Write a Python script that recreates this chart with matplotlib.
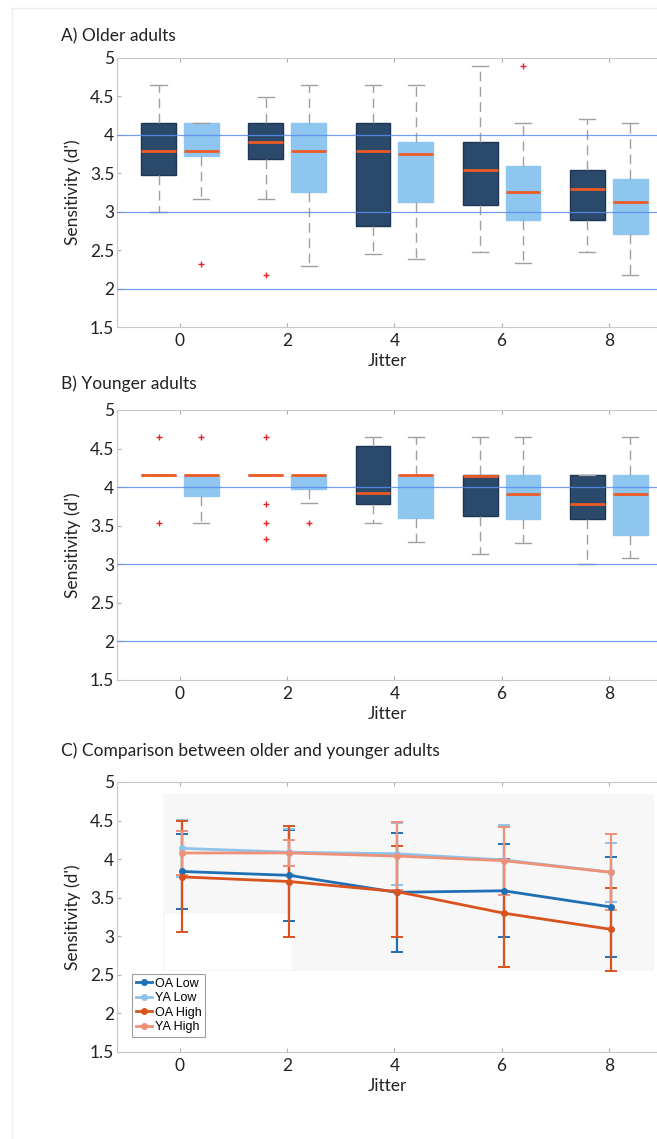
import numpy as np
import matplotlib
matplotlib.use('Agg')
import matplotlib.pyplot as plt
from matplotlib import ticker
from matplotlib.patches import Rectangle
from matplotlib.lines import Line2D

plt.rcParams['font.family'] = ['Lato', 'DejaVu Sans']

jitter = [0, 2, 4, 6, 8]

# box stats per jitter: whislo, q1, med, q3, whishi
oa_low_box = [[3.00, 3.48, 3.79, 4.16, 4.65],
              [3.17, 3.68, 3.91, 4.16, 4.49],
              [2.45, 2.82, 3.79, 4.16, 4.65],
              [2.48, 3.09, 3.54, 3.91, 4.90],
              [2.48, 2.89, 3.29, 3.54, 4.20]]
oa_low_fliers = [[], [2.18], [], [], []]
oa_high_box = [[3.17, 3.73, 3.79, 4.16, 4.16],
               [2.30, 3.26, 3.79, 4.16, 4.65],
               [2.39, 3.13, 3.75, 3.91, 4.65],
               [2.33, 2.89, 3.26, 3.60, 4.16],
               [2.18, 2.71, 3.13, 3.43, 4.16]]
oa_high_fliers = [[2.32], [], [], [4.90], []]

ya_low_box = [[4.16, 4.16, 4.16, 4.16, 4.16],
              [4.16, 4.16, 4.16, 4.16, 4.16],
              [3.54, 3.78, 3.92, 4.53, 4.65],
              [3.13, 3.62, 4.15, 4.16, 4.65],
              [3.00, 3.59, 3.78, 4.16, 4.16]]
ya_low_fliers = [[4.65, 3.54], [4.65, 3.78, 3.54, 3.33], [], [], []]
ya_high_box = [[3.54, 3.88, 4.16, 4.16, 4.16],
               [3.79, 3.97, 4.16, 4.16, 4.16],
               [3.29, 3.60, 4.16, 4.16, 4.65],
               [3.28, 3.59, 3.91, 4.16, 4.65],
               [3.08, 3.38, 3.91, 4.16, 4.65]]
ya_high_fliers = [[4.65], [3.54], [], [], []]

# panel C means and error bars
oa_low_mean = [3.84, 3.79, 3.57, 3.59, 3.38]
oa_low_err = [0.48, 0.59, 0.77, 0.60, 0.65]
ya_low_mean = [4.14, 4.09, 4.07, 3.99, 3.83]
ya_low_err = [0.37, 0.30, 0.40, 0.45, 0.38]
oa_high_mean = [3.77, 3.71, 3.58, 3.30, 3.09]
oa_high_err = [0.72, 0.72, 0.59, 0.70, 0.54]
ya_high_mean = [4.08, 4.08, 4.04, 3.98, 3.83]
ya_high_err = [0.28, 0.17, 0.44, 0.44, 0.49]

W, H = 657, 1139
fig = plt.figure(figsize=(W / 100, H / 100), dpi=100)


def px_axes(top, bottom, left=117, right=657):
    return fig.add_axes([left / W, 1 - bottom / H, (right - left) / W, (bottom - top) / H])


def style_axes(ax):
    ax.set_xlim(-1.175, 8.9)
    ax.set_ylim(1.5, 5)
    ax.set_xticks(jitter)
    ax.set_yticks(np.arange(1.5, 5.01, 0.5))
    ax.yaxis.set_major_formatter(ticker.FormatStrFormatter('%g'))
    ax.tick_params(direction='in', length=3, color='#b0b0b0', labelsize=12.5,
                   labelcolor='#222222', top=True)
    ax.tick_params(axis='y', pad=2)
    ax.tick_params(axis='x', pad=4)
    for s in ['left', 'bottom', 'top']:
        ax.spines[s].set_color('#c8c8c8')
    ax.spines['right'].set_visible(False)
    ax.set_ylabel("Sensitivity (d')", fontsize=12.5, color='#222222')
    ax.yaxis.set_label_coords(-0.066, 0.5)
    ax.set_xlabel('Jitter', fontsize=12.5, color='#222222')
    ax.xaxis.set_label_coords(0.5, -0.095)


def stats(rows, fliers):
    out = []
    for r, f in zip(rows, fliers):
        out.append(dict(whislo=r[0], q1=r[1], med=r[2], q3=r[3], whishi=r[4], fliers=f))
    return out


def draw_boxes(ax, rows, fliers, pos, face, edge):
    ax.bxp(stats(rows, fliers), positions=pos, widths=0.65, capwidths=0.3,
           patch_artist=True, manage_ticks=False,
           boxprops=dict(facecolor=face, edgecolor=edge, linewidth=1),
           medianprops=dict(color='#ee5a24', linewidth=2, zorder=4),
           whiskerprops=dict(color='#a0a0a0', linestyle=(0, (7, 4)), linewidth=1),
           capprops=dict(color='#a0a0a0', linewidth=1),
           flierprops=dict(marker='+', markeredgecolor='#e8232a', markersize=5,
                           markeredgewidth=1, linestyle='none'))


def box_panel(ax, low_rows, low_fl, high_rows, high_fl):
    x = np.array(jitter, dtype=float)
    draw_boxes(ax, low_rows, low_fl, x - 0.4, '#2b4a6b', '#1d3552')
    draw_boxes(ax, high_rows, high_fl, x + 0.4, '#8fc6f0', '#8fc6f0')
    for yv in [2, 3, 4]:
        ax.axhline(yv, color='#5b8def', linewidth=0.9, alpha=0.85, zorder=5)
    style_axes(ax)


axA = px_axes(58, 327)
box_panel(axA, oa_low_box, oa_low_fliers, oa_high_box, oa_high_fliers)

axB = px_axes(410, 680)
box_panel(axB, ya_low_box, ya_low_fliers, ya_high_box, ya_high_fliers)

axC = px_axes(782, 1052)
axC.add_patch(Rectangle((-0.32, 2.55), 9.16, 2.30, facecolor='#f7f7f7', edgecolor='none', zorder=0))
axC.add_patch(Rectangle((-0.28, 2.56), 2.35, 0.73, facecolor='white', edgecolor='none', zorder=0))

series = [(oa_low_mean, oa_low_err, '#1f6fb4', 'OA Low'),
          (ya_low_mean, ya_low_err, '#8fc3ec', 'YA Low'),
          (oa_high_mean, oa_high_err, '#d9531e', 'OA High'),
          (ya_high_mean, ya_high_err, '#ee9178', 'YA High')]
handles = []
xc = np.array(jitter, dtype=float) + 0.04
for m, e, c, lab in series:
    axC.errorbar(xc, m, yerr=e, color=c, linewidth=2, elinewidth=1.6,
                 capsize=4, capthick=1.4, marker='o', markersize=4, label=lab)
    handles.append(Line2D([0], [0], color=c, linewidth=2, marker='o', markersize=4))
style_axes(axC)
leg = axC.legend(handles, [s[3] for s in series], loc='lower left',
                 bbox_to_anchor=(0.028, 0.056), borderaxespad=0,
                 prop=dict(family=['Liberation Sans'], size=9),
                 handlelength=1.3, handletextpad=0.2, labelspacing=0.2,
                 borderpad=0.3, fancybox=False, framealpha=1, edgecolor='#a0a0a0')
leg.get_frame().set_linewidth(0.8)

fig.text(61 / W, 1 - 36 / H, 'A) Older adults', fontsize=12.5, va='center', ha='left', color='#222222')
fig.text(61 / W, 1 - 384 / H, 'B) Younger adults', fontsize=12.5, va='center', ha='left', color='#222222')
fig.text(61 / W, 1 - 751 / H, 'C) Comparison between older and younger adults', fontsize=12.5,
         va='center', ha='left', color='#222222')

# faint page frame
fig.add_artist(Line2D([12 / W, 12 / W], [0, 1 - 8 / H], transform=fig.transFigure,
                      color='#eeeeee', linewidth=1))
fig.add_artist(Line2D([12 / W, 1], [1 - 8 / H, 1 - 8 / H], transform=fig.transFigure,
                      color='#eeeeee', linewidth=1))

fig.savefig('out.png', dpi=100)
